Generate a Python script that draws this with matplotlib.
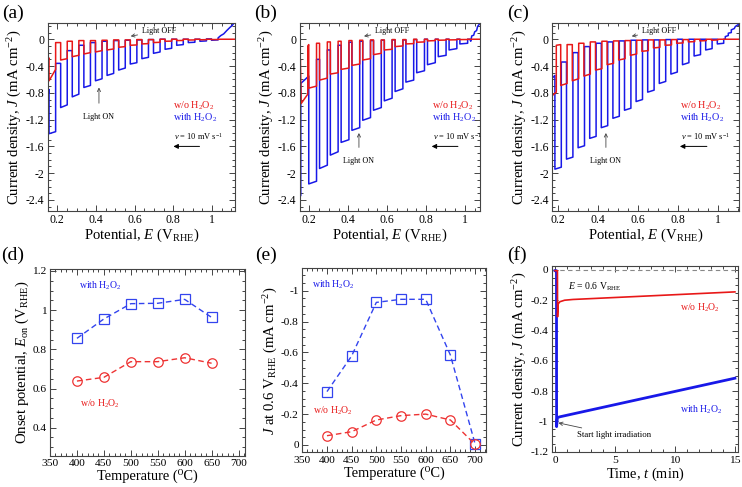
import matplotlib
matplotlib.use("Agg")
import matplotlib.pyplot as plt
from matplotlib.ticker import MultipleLocator

plt.rcParams['font.family'] = ['Liberation Serif', 'DejaVu Serif']
plt.rcParams['mathtext.fontset'] = 'custom'
plt.rcParams['mathtext.rm'] = 'Liberation Serif'
plt.rcParams['mathtext.it'] = 'Liberation Serif:italic'
plt.rcParams['axes.unicode_minus'] = False
plt.rcParams['xtick.direction'] = 'in'
plt.rcParams['ytick.direction'] = 'in'
plt.rcParams['xtick.top'] = True
plt.rcParams['ytick.right'] = True

RED = '#e81818'
BLUE = '#1818e8'
GRAY = '#444444'

# ---------------- chopped-light LSV data (a) ----------------
a_off = [0.157, 0.217, 0.277, 0.337, 0.397, 0.457, 0.517, 0.577, 0.637, 0.697, 0.757, 0.817, 0.877, 0.937, 0.997]
a_on = [0.191, 0.251, 0.311, 0.371, 0.431, 0.491, 0.551, 0.611, 0.671, 0.731, 0.791, 0.851, 0.911, 0.971, 1.031]
a_blue_end = [-1.41, -1.02, -0.86, -0.72, -0.62, -0.54, -0.46, -0.37, -0.29, -0.21, -0.15, -0.09, -0.05, -0.03, -0.015]
a_blue_start = [-1.38, -0.98, -0.82, -0.69, -0.59, -0.51, -0.43, -0.35, -0.27, -0.19, -0.135, -0.08, -0.045, -0.025, -0.01]
a_blue_dark = [-0.36, -0.17, -0.09, -0.05, -0.03, -0.02, -0.015, -0.01, -0.005, 0, 0, 0, 0, 0.005, 0.02]
a_blue_head_e = [0.15, 0.157]
a_blue_head_j = [-0.86, -0.75]
a_blue_tail_e = [1.045, 1.06, 1.076, 1.09, 1.105, 1.12]
a_blue_tail_j = [0.055, 0.08, 0.13, 0.17, 0.21, 0.27]
a_red_end = [-0.62, -0.31, -0.26, -0.22, -0.19, -0.16, -0.12, -0.09, -0.07, -0.05, -0.03, -0.02, -0.012, -0.008, -0.005]
a_red_start = [-0.45, -0.29, -0.24, -0.20, -0.17, -0.145, -0.11, -0.085, -0.065, -0.045, -0.028, -0.018, -0.01, -0.006, -0.004]
a_red_dark = [-0.05, -0.03, -0.02, -0.02, -0.015, -0.01, -0.01, -0.005, -0.005, 0, 0, 0, 0, 0, 0]
a_red_head_e = [0.15, 0.157]
a_red_head_j = [-0.33, -0.28]
a_red_tail_e = [1.12]
a_red_tail_j = [0.0]

# ---------------- (b) ----------------
b_off = [0.197, 0.2525, 0.308, 0.3635, 0.419, 0.4745, 0.530, 0.5855, 0.641, 0.6965, 0.752, 0.8075, 0.863, 0.9185, 0.974]
b_on = [0.237, 0.2925, 0.348, 0.4035, 0.459, 0.5145, 0.570, 0.6255, 0.681, 0.7365, 0.792, 0.8475, 0.903, 0.9585, 1.014]
b_blue_end = [-2.16, -1.93, -1.73, -1.54, -1.36, -1.21, -1.06, -0.92, -0.78, -0.64, -0.50, -0.38, -0.26, -0.16, -0.07]
b_blue_start = [-2.12, -1.88, -1.68, -1.50, -1.32, -1.17, -1.02, -0.88, -0.74, -0.61, -0.47, -0.35, -0.24, -0.14, -0.06]
b_blue_dark = [-0.30, -0.16, -0.09, -0.045, -0.03, -0.02, -0.015, -0.01, -0.01, -0.005, 0, 0, 0, 0, 0]
b_blue_head_e = [0.15, 0.156, 0.156, 0.197]
b_blue_head_j = [-2.37, -2.33, -0.66, -0.55]
b_blue_tail_e = [1.025, 1.03, 1.035, 1.045, 1.05, 1.06, 1.065, 1.078]
b_blue_tail_j = [0.0, -0.03, 0.05, 0.06, 0.11, 0.13, 0.19, 0.24]
b_red_end = [-0.73, -0.61, -0.52, -0.45, -0.39, -0.31, -0.23, -0.16, -0.11, -0.07, -0.045, -0.025, -0.015, -0.01, -0.005]
b_red_start = [-0.70, -0.58, -0.50, -0.43, -0.37, -0.29, -0.21, -0.15, -0.10, -0.065, -0.04, -0.02, -0.012, -0.008, -0.004]
b_red_dark = [-0.06, -0.04, -0.03, -0.02, -0.015, -0.01, -0.01, -0.005, -0.005, 0, 0, 0, 0, 0, 0]
b_red_head_e = [0.15, 0.154, 0.158, 0.192, 0.192, 0.197]
b_red_head_j = [-0.45, -0.30, -0.96, -0.82, -0.10, -0.08]
b_red_tail_e = [1.078]
b_red_tail_j = [0.0]

# ---------------- (c) ----------------
c_off = [0.183, 0.241, 0.299, 0.357, 0.415, 0.473, 0.531, 0.589, 0.647, 0.705, 0.763, 0.821, 0.879, 0.937, 0.995]
c_on = [0.215, 0.273, 0.331, 0.389, 0.447, 0.505, 0.563, 0.621, 0.679, 0.737, 0.795, 0.853, 0.911, 0.969, 1.027]
c_blue_end = [-1.94, -1.79, -1.62, -1.48, -1.32, -1.18, -1.06, -0.93, -0.79, -0.66, -0.52, -0.38, -0.25, -0.16, -0.07]
c_blue_start = [-1.91, -1.76, -1.59, -1.45, -1.29, -1.15, -1.03, -0.90, -0.76, -0.63, -0.49, -0.35, -0.23, -0.14, -0.06]
c_blue_dark = [-0.34, -0.20, -0.11, -0.06, -0.04, -0.025, -0.015, -0.01, -0.01, -0.005, 0, 0, 0, 0, 0]
c_blue_head_e = [0.17, 0.183]
c_blue_head_j = [-0.58, -0.54]
c_blue_tail_e = [1.035, 1.035, 1.05, 1.05, 1.065, 1.065, 1.08, 1.085, 1.105]
c_blue_tail_j = [0.0, 0.04, 0.055, 0.09, 0.10, 0.14, 0.16, 0.19, 0.23]
c_red_off = [0.212, 0.270, 0.328, 0.386, 0.444, 0.502, 0.560, 0.618, 0.676, 0.734, 0.792, 0.850, 0.908, 0.966]
c_red_on = [0.244, 0.302, 0.360, 0.418, 0.476, 0.534, 0.592, 0.650, 0.708, 0.766, 0.824, 0.882, 0.940, 0.998]
c_red_end = [-0.69, -0.62, -0.55, -0.46, -0.38, -0.31, -0.24, -0.18, -0.13, -0.09, -0.06, -0.04, -0.025, -0.015]
c_red_start = [-0.66, -0.59, -0.52, -0.44, -0.36, -0.29, -0.22, -0.17, -0.12, -0.085, -0.055, -0.035, -0.02, -0.01]
c_red_dark = [-0.08, -0.06, -0.04, -0.03, -0.025, -0.02, -0.015, -0.01, -0.01, -0.005, -0.005, 0, 0, 0]
c_red_head_e = [0.17, 0.19, 0.19, 0.212]
c_red_head_j = [-0.84, -0.79, -0.09, -0.08]
c_red_tail_e = [1.105]
c_red_tail_j = [0.0]

# ---------------- (d), (e) ----------------
temp_d = [400, 450, 500, 550, 600, 650]
onset_with = [0.856, 0.955, 1.033, 1.035, 1.055, 0.963]
onset_wo = [0.638, 0.657, 0.737, 0.737, 0.757, 0.729]
temp_e = [400, 450, 500, 550, 600, 650, 700]
j06_with = [-0.346, -0.577, -0.924, -0.944, -0.944, -0.583, -0.008]
j06_wo = [-0.060, -0.086, -0.162, -0.190, -0.200, -0.162, -0.004]

# ---------------- (f) ----------------
f_red_t = [0.0, 0.2, 0.21, 0.26, 0.4, 0.8, 1.5, 15.0]
f_red_j = [-0.005, -0.005, -0.31, -0.225, -0.21, -0.20, -0.195, -0.145]
f_blue_t = [0.0, 0.12, 0.13, 0.2, 0.4, 15.0]
f_blue_j = [-0.005, -0.005, -1.035, -0.975, -0.97, -0.715]


def chop(e_off, e_on, j_end, j_start, j_dark, head_e, head_j, tail_e, tail_j):
    xs = list(head_e)
    ys = list(head_j)
    for k in range(len(e_off)):
        xs += [e_off[k], e_on[k], e_on[k]]
        ys += [j_end[k], j_start[k], j_dark[k]]
        if k + 1 < len(e_off):
            xs.append(e_off[k + 1])
            ys.append(j_dark[k])
    return xs + list(tail_e), ys + list(tail_j)


def fmt(v):
    s = '%g' % round(v, 6)
    return '0' if s == '-0' else s


W, H = 742, 487
fig = plt.figure(figsize=(W / 100, H / 100), dpi=100)
fig.patch.set_facecolor('white')

LABEL_FS = 10.6


def px_axes(x0, y0, x1, y1, tick_fs=8.5):
    ax = fig.add_axes([x0 / W, 1 - y1 / H, (x1 - x0) / W, (y1 - y0) / H])
    for s in ax.spines.values():
        s.set_color(GRAY)
        s.set_linewidth(0.8)
    ax.tick_params(which='both', colors=GRAY, labelcolor='black', labelsize=tick_fs, width=0.7, pad=2.5)
    ax.tick_params(which='major', length=4)
    ax.tick_params(which='minor', length=2)
    ax.minorticks_on()
    return ax


def set_ticks(ax, xt, yt, xminor, yminor):
    ax.set_xticks(xt)
    ax.set_xticklabels([fmt(v) for v in xt])
    ax.set_yticks(yt)
    ax.set_yticklabels([fmt(v) for v in yt])
    ax.xaxis.set_minor_locator(MultipleLocator(xminor))
    ax.yaxis.set_minor_locator(MultipleLocator(yminor))


lsv_boxes = [(47.7, 23.3, 235.3, 210.7), (300, 23.3, 480.3, 210.7), (552.3, 23.3, 739.3, 210.7)]
lsv_xlim = [(0.15, 1.12), (0.152, 1.079), (0.17, 1.105)]
lsv_curves = [
    (chop(a_off, a_on, a_blue_end, a_blue_start, a_blue_dark, a_blue_head_e, a_blue_head_j, a_blue_tail_e, a_blue_tail_j),
     chop(a_off, a_on, a_red_end, a_red_start, a_red_dark, a_red_head_e, a_red_head_j, a_red_tail_e, a_red_tail_j)),
    (chop(b_off, b_on, b_blue_end, b_blue_start, b_blue_dark, b_blue_head_e, b_blue_head_j, b_blue_tail_e, b_blue_tail_j),
     chop(b_off, b_on, b_red_end, b_red_start, b_red_dark, b_red_head_e, b_red_head_j, b_red_tail_e, b_red_tail_j)),
    (chop(c_off, c_on, c_blue_end, c_blue_start, c_blue_dark, c_blue_head_e, c_blue_head_j, c_blue_tail_e, c_blue_tail_j),
     chop(c_red_off, c_red_on, c_red_end, c_red_start, c_red_dark, c_red_head_e, c_red_head_j, c_red_tail_e, c_red_tail_j)),
]
# per panel: light-off text x, light-off tip x, legend x, light-on x, light-on tip y, light-on text y
lsv_notes = [
    (0.636, 0.579, 0.80, 0.415, -0.72, -1.16),
    (0.537, 0.481, 0.829, 0.455, -1.40, -1.82),
    (0.617, 0.567, 0.808, 0.438, -1.40, -1.82),
]
labels = ['(a)', '(b)', '(c)']
label_x = [13, 266, 518]

for i in range(3):
    ax = px_axes(*lsv_boxes[i])
    (bx, by), (rx, ry) = lsv_curves[i]
    ax.plot(bx, by, color=BLUE, lw=1.1)
    ax.plot(rx, ry, color=RED, lw=1.1)
    ax.set_xlim(*lsv_xlim[i])
    ax.set_ylim(-2.56, 0.238)
    set_ticks(ax, [0.2, 0.4, 0.6, 0.8, 1.0], [0, -0.4, -0.8, -1.2, -1.6, -2.0, -2.4], 0.05, 0.1)
    ax.set_xlabel('Potential, $E$ (V$_{\\rm RHE}$)', fontsize=LABEL_FS, labelpad=0.5)
    ax.set_ylabel('Current density, $J$ (mA cm$^{-2}$)', fontsize=LABEL_FS, labelpad=1)
    toff, tipoff, legx, onx, ontip, ony = lsv_notes[i]
    ax.annotate('Light OFF', xy=(tipoff, 0.045), xytext=(toff, 0.124), fontsize=5.8, va='center', ha='left',
                arrowprops=dict(arrowstyle='->', color=GRAY, lw=0.6, shrinkA=1, shrinkB=0))
    ax.annotate('Light ON', xy=(onx, ontip), xytext=(onx, ony), fontsize=5.8, va='center', ha='center',
                arrowprops=dict(arrowstyle='->', color=GRAY, lw=0.6, shrinkA=5, shrinkB=0))
    ax.text(legx, -1.0, 'w/o H$_2$O$_2$', color=RED, fontsize=7.3, va='center')
    ax.text(legx, -1.17, 'with H$_2$O$_2$', color=BLUE, fontsize=7.3, va='center')
    ax.text(legx + 0.005, -1.45, '$\\nu$ = 10 mV s$^{-1}$', fontsize=6, va='center')
    ax.annotate('', xy=(legx, -1.6), xytext=(legx + 0.135, -1.6),
                arrowprops=dict(arrowstyle='-|>', color='black', lw=0.7, mutation_scale=7, shrinkA=0, shrinkB=0))
    fig.text(label_x[i] / W, 1 - 13 / H, labels[i], fontsize=14, ha='center', va='center')

TEMP_LABEL = 'Temperature (\u2070C)'

# ---------------- (d) ----------------
ax = px_axes(50, 269, 245, 455.7, tick_fs=8.2)
ax.plot(temp_d, onset_with, ls=(0, (4, 2.5)), color='#3344ee', lw=1.0, marker='s', ms=6.8,
        mfc='none', mec='#3344ee', mew=0.9)
ax.plot(temp_d, onset_wo, ls=(0, (4, 2.5)), color='#ee3333', lw=1.0, marker='o', ms=6.8,
        mfc='none', mec='#ee3333', mew=0.9)
ax.set_xlim(350, 712)
ax.set_ylim(0.257, 1.21)
set_ticks(ax, [350, 400, 450, 500, 550, 600, 650, 700], [0.4, 0.6, 0.8, 1.0, 1.2], 10, 0.05)
ax.set_xlabel(TEMP_LABEL, fontsize=10.4, labelpad=0.5)
ax.set_ylabel('Onset potential, $E_{\\rm on}$ (V$_{\\rm RHE}$)', fontsize=LABEL_FS, labelpad=1)
ax.text(443, 1.123, 'with H$_2$O$_2$', color=BLUE, fontsize=7, ha='center', va='center')
ax.text(443, 0.524, 'w/o H$_2$O$_2$', color=RED, fontsize=7, ha='center', va='center')
fig.text(13 / W, 1 - 255 / H, '(d)', fontsize=14, ha='center', va='center')

# ---------------- (e) ----------------
ax = px_axes(302.3, 268.3, 485.7, 452.3, tick_fs=8.2)
ax.plot(temp_e, j06_with, ls=(0, (4, 2.5)), color='#3344ee', lw=1.0, marker='s', ms=6.8,
        mfc='none', mec='#3344ee', mew=0.9)
ax.plot(temp_e, j06_wo, ls=(0, (4, 2.5)), color='#ee3333', lw=1.0, marker='o', ms=6.8,
        mfc='none', mec='#ee3333', mew=0.9)
ax.set_xlim(350, 721.6)
ax.set_ylim(0.0475, -1.145)
set_ticks(ax, [350, 400, 450, 500, 550, 600, 650, 700], [0, -0.2, -0.4, -0.6, -0.8, -1.0], 10, 0.05)
ax.set_xlabel(TEMP_LABEL, fontsize=10.4, labelpad=1)
ax.set_ylabel('$J$ at 0.6 V$_{\\rm RHE}$ (mA cm$^{-2}$)', fontsize=LABEL_FS, labelpad=1)
ax.text(413, -1.037, 'with H$_2$O$_2$', color=BLUE, fontsize=7, ha='center', va='center')
ax.text(413, -0.222, 'w/o H$_2$O$_2$', color=RED, fontsize=7, ha='center', va='center')
fig.text(266 / W, 1 - 255 / H, '(e)', fontsize=14, ha='center', va='center')

# ---------------- (f) ----------------
ax = px_axes(551.7, 266.3, 738.3, 452.3, tick_fs=8.2)
ax.axhline(0, color='#888888', lw=0.8, ls=(0, (4, 3)))
ax.plot(f_blue_t, f_blue_j, color=BLUE, lw=2.0)
ax.plot(f_red_t, f_red_j, color=RED, lw=1.2)
ax.set_xlim(-0.278, 15.28)
ax.set_ylim(-1.2044, 0.024)
set_ticks(ax, [0, 5, 10, 15], [0, -0.2, -0.4, -0.6, -0.8, -1.0, -1.2], 1, 0.05)
ax.set_xlabel('Time, $t$ (min)', fontsize=10.4, labelpad=0.5)
ax.set_ylabel('Current density, $J$ (mA cm$^{-2}$)', fontsize=LABEL_FS, labelpad=1)
ax.text(1.1, -0.11, '$E$ = 0.6 V$_{\\rm RHE}$', fontsize=7, va='center')
ax.text(12.1, -0.253, 'w/o H$_2$O$_2$', color=RED, fontsize=7, ha='center', va='center')
ax.text(12.2, -0.925, 'with H$_2$O$_2$', color=BLUE, fontsize=7, ha='center', va='center')
ax.annotate('Start light irradiation', xy=(0.28, -1.01), xytext=(1.86, -1.09), fontsize=6.3,
            va='center', ha='left',
            arrowprops=dict(arrowstyle='->', color=GRAY, lw=0.6, shrinkA=1, shrinkB=0))
fig.text(517 / W, 1 - 255 / H, '(f)', fontsize=14, ha='center', va='center')

fig.savefig('out.png', dpi=100)
